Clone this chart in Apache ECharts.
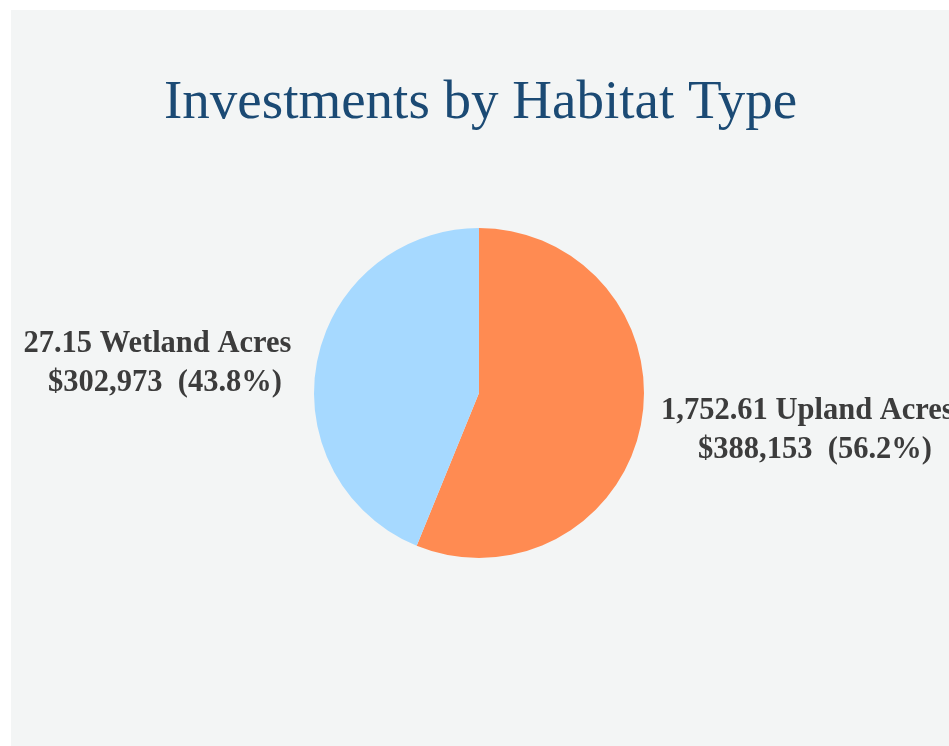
<!DOCTYPE html>
<html>
<head>
<meta charset="utf-8">
<script src="https://cdn.jsdelivr.net/npm/echarts@6/dist/echarts.min.js"></script>
<style>
  html, body { margin: 0; padding: 0; background: #ffffff; }
  #panel { position: absolute; left: 11px; top: 10px; width: 938px; height: 736px; background: #f3f5f5; }
  #main { position: absolute; left: 0; top: 0; width: 949px; height: 746px; }
</style>
</head>
<body>
<div id="panel"></div>
<div id="main"></div>
<script>
// habitat data
const habitats = ['Upland', 'Wetland']
const acres = ['1,752.61', '27.15']
const dollars = [388153, 302973]
const colors = ['#ff8b52', '#a6d9ff']

// where each label sits (centre of the two-line block)
const labelPos = {
  Upland: [815, 431],
  Wetland: [165, 364]
}

const chart = echarts.init(document.getElementById('main'))

const pieData = habitats.map((name, i) => ({
  name: name,
  value: dollars[i],
  acres: acres[i],
  itemStyle: { color: colors[i] }
}))

function fmtMoney(v) {
  return '$' + v.toLocaleString('en-US')
}

const option = {
  backgroundColor: 'transparent',
  animation: false,
  title: {
    text: 'Investments by Habitat Type',
    left: 159,
    top: 71,
    textStyle: {
      fontFamily: 'Liberation Serif',
      fontSize: 55,
      fontWeight: 'normal',
      color: '#1b4a74'
    }
  },
  series: [
    {
      type: 'pie',
      center: [479, 393],
      radius: 165,
      startAngle: 90,
      clockwise: true,
      percentPrecision: 1,
      data: pieData,
      label: {
        show: true,
        fontFamily: 'Liberation Serif',
        fontWeight: 'bold',
        fontSize: 30.5,
        lineHeight: 39,
        color: '#3c3c3c',
        align: 'center',
        overflow: 'none',
        width: 400,
        // first line carries trailing spaces, as in the source slide
        formatter: p => p.data.acres + ' ' + p.name + ' Acres  \n' + fmtMoney(p.value) + '  (' + p.percent.toFixed(1) + '%)'
      },
      labelLine: { show: false },
      labelLayout: p => {
        const name = habitats[p.dataIndex]
        return {
          x: labelPos[name][0],
          y: labelPos[name][1],
          align: 'center',
          verticalAlign: 'middle'
        }
      }
    }
  ]
}

chart.setOption(option)
</script>
</body>
</html>
